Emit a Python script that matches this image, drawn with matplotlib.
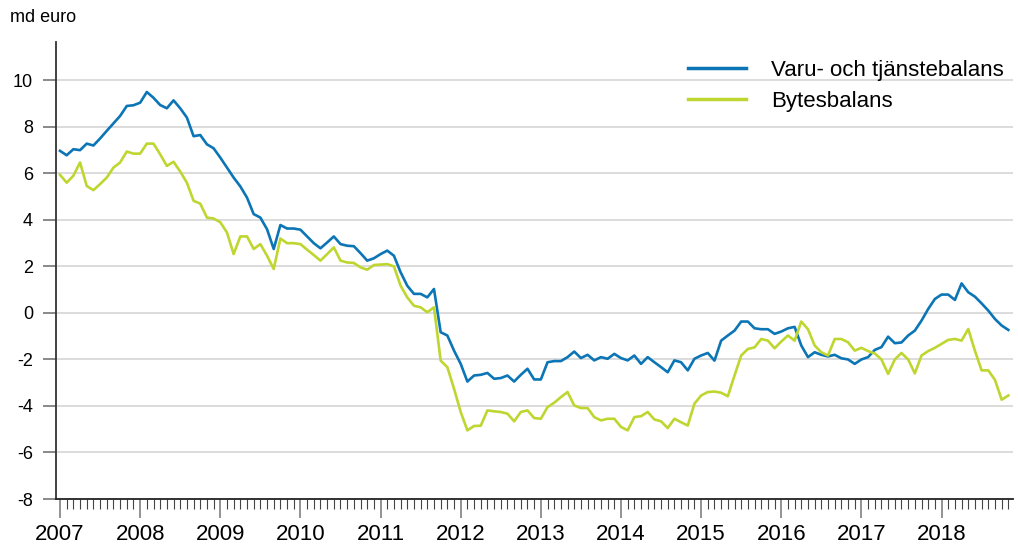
import matplotlib
matplotlib.use("Agg")
import matplotlib.pyplot as plt
from matplotlib.ticker import MultipleLocator, FixedLocator
import numpy as np

plt.rcParams['font.family'] = ['Liberation Sans', 'DejaVu Sans']

years = [str(y) for y in range(2007, 2019)]
months_per_year = 12

varu_tjanste = [
    6.97, 6.78, 7.04, 7.0, 7.28, 7.2, 7.5, 7.83, 8.15, 8.47, 8.9, 8.93,
    9.04, 9.5, 9.25, 8.94, 8.8, 9.14, 8.8, 8.4, 7.6, 7.65, 7.25, 7.08,
    6.68, 6.25, 5.82, 5.44, 4.96, 4.25, 4.1, 3.6, 2.75, 3.78, 3.63, 3.63,
    3.58, 3.29, 3.0, 2.78, 3.03, 3.29, 2.96, 2.89, 2.87, 2.57, 2.25, 2.35,
    2.53, 2.68, 2.46, 1.75, 1.17, 0.82, 0.82, 0.67, 1.03, -0.83, -0.97, -1.62,
    -2.19, -2.95, -2.69, -2.66, -2.58, -2.83, -2.8, -2.69, -2.95, -2.66, -2.4, -2.86,
    -2.86, -2.12, -2.07, -2.07, -1.9, -1.66, -1.94, -1.8, -2.04, -1.9, -1.97, -1.76,
    -1.94, -2.04, -1.83, -2.19, -1.9, -2.12, -2.33, -2.55, -2.04, -2.12, -2.47, -1.97,
    -1.83, -1.72, -2.05, -1.19, -0.97, -0.76, -0.37, -0.37, -0.66, -0.7, -0.7, -0.9,
    -0.8, -0.66, -0.6, -1.4, -1.9, -1.69, -1.8, -1.87, -1.8, -1.95, -2.0, -2.19,
    -2.0, -1.9, -1.59, -1.47, -1.02, -1.3, -1.27, -0.97, -0.76, -0.33, 0.17, 0.6,
    0.79, 0.79, 0.56, 1.27, 0.89, 0.7, 0.41, 0.1, -0.26, -0.54, -0.73,
]

bytesbalans = [
    5.94, 5.6, 5.9, 6.47, 5.46, 5.28, 5.54, 5.82, 6.25, 6.47, 6.94, 6.85,
    6.85, 7.28, 7.28, 6.82, 6.32, 6.5, 6.08, 5.6, 4.82, 4.7, 4.1, 4.06,
    3.9, 3.46, 2.53, 3.29, 3.29, 2.75, 2.96, 2.46, 1.89, 3.2, 3.0, 3.0,
    2.96, 2.72, 2.49, 2.25, 2.53, 2.82, 2.25, 2.17, 2.15, 1.96, 1.86, 2.06,
    2.08, 2.1, 2.0, 1.17, 0.67, 0.31, 0.24, 0.03, 0.24, -2.05, -2.33, -3.26,
    -4.26, -5.05, -4.86, -4.85, -4.19, -4.23, -4.26, -4.33, -4.66, -4.26, -4.19, -4.52,
    -4.55, -4.05, -3.86, -3.62, -3.4, -3.98, -4.09, -4.09, -4.48, -4.62, -4.55, -4.55,
    -4.9, -5.05, -4.48, -4.44, -4.26, -4.58, -4.66, -4.95, -4.55, -4.7, -4.84, -3.9,
    -3.55, -3.4, -3.38, -3.43, -3.58, -2.69, -1.83, -1.55, -1.48, -1.12, -1.19, -1.52,
    -1.23, -0.97, -1.19, -0.37, -0.7, -1.4, -1.69, -1.83, -1.12, -1.12, -1.26, -1.62,
    -1.5, -1.64, -1.74, -2.0, -2.62, -2.0, -1.72, -2.0, -2.6, -1.83, -1.64, -1.5,
    -1.33, -1.16, -1.12, -1.19, -0.69, -1.63, -2.47, -2.47, -2.88, -3.73, -3.55,
]

labels = ["Varu- och tjänstebalans", "Bytesbalans"]
colors = ["#0b75b5", "#bfd630"]

fig = plt.figure(figsize=(10.18, 5.56), dpi=100)
ax = fig.add_axes([56/1018, 1-499/556, (1013-56)/1018, (499-42)/556])

x = np.arange(len(varu_tjanste))
ax.plot(x, varu_tjanste, color=colors[0], lw=1.9, label=labels[0], zorder=3)
ax.plot(np.arange(len(bytesbalans)), bytesbalans, color=colors[1], lw=1.9, label=labels[1], zorder=3)

ax.set_ylim(-8, 11.65)
ax.set_xlim(-0.6, 142.7)
ax.yaxis.set_major_locator(FixedLocator(range(-8, 11, 2)))
ax.set_yticklabels([str(v) for v in range(-8, 11, 2)], fontsize=13)
for v in range(-6, 11, 2):
    ax.axhline(v, color="#d9d9d9", lw=1.3, zorder=1)

ax.xaxis.set_major_locator(FixedLocator([i * months_per_year for i in range(len(years))]))
ax.set_xticklabels(years, fontsize=16)
ax.xaxis.set_minor_locator(MultipleLocator(1))
ax.tick_params(axis='x', which='major', length=14, width=1.2, color='#808080', pad=4)
ax.tick_params(axis='x', which='minor', length=7, width=0.8, color='#444444')
ax.tick_params(axis='y', which='major', length=9.5, width=1.3, color='#808080', pad=7)

for s in ['top', 'right']:
    ax.spines[s].set_visible(False)
ax.spines['left'].set_color('#333333')
ax.spines['bottom'].set_color('#222222')
ax.spines['left'].set_linewidth(1.3)
ax.spines['bottom'].set_linewidth(1.3)

fig.text(10/1018, 1-18/556, "md euro", fontsize=13, ha='left', va='center')

leg = ax.legend(loc='upper left', bbox_to_anchor=(688/1018, 1-60/556),
                bbox_transform=fig.transFigure, frameon=False, fontsize=16,
                handlelength=2.6, handletextpad=1.15, labelspacing=0.45,
                borderpad=0, borderaxespad=0)
for line in leg.get_lines():
    line.set_linewidth(2.5)

fig.savefig("out.png", dpi=100)
